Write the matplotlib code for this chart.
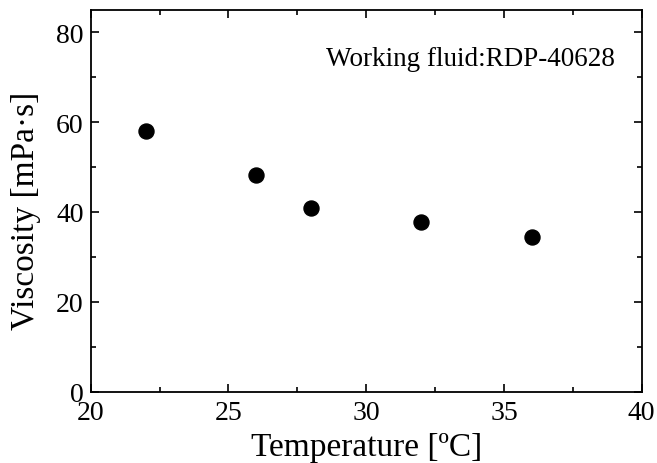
import matplotlib.pyplot as plt
from matplotlib.ticker import MultipleLocator

temperature = [22, 26, 28, 32, 36]
viscosity = [58.1, 48.2, 40.9, 37.8, 34.4]

plt.rcParams['font.family'] = ['Liberation Serif', 'DejaVu Serif']

fig = plt.figure(figsize=(6.57, 4.64), dpi=100)
ax = fig.add_axes([90.7/657, 1 - 392.7/464, 551/657, 382/464])

ax.plot(temperature, viscosity, 'o', color='black', markersize=10.8)

ax.set_xlim(20, 40)
ax.set_ylim(0, 85)
ax.xaxis.set_major_locator(MultipleLocator(5))
ax.xaxis.set_minor_locator(MultipleLocator(2.5))
ax.yaxis.set_major_locator(MultipleLocator(20))
ax.yaxis.set_minor_locator(MultipleLocator(10))
ax.tick_params(which='both', direction='in', top=True, right=True, labelsize=20, width=1.2)
ax.tick_params(which='major', length=6)
ax.tick_params(which='minor', length=3.5)
ax.tick_params(axis='y', pad=5)
ax.tick_params(axis='x', pad=6)
for s in ax.spines.values():
    s.set_linewidth(1.3)

ax.set_xlabel('Temperature [ºC]', fontsize=24)
ax.set_ylabel('Viscosity [mPa·s]', fontsize=24)
ax.xaxis.set_label_coords(0.5, -0.105)
ax.yaxis.set_label_coords(-0.09, 0.475)

ax.text(0.951, 0.873, 'Working fluid:RDP-40628', transform=ax.transAxes,
        ha='right', va='center', fontsize=19.5)

fig.savefig('out.png', dpi=100)
